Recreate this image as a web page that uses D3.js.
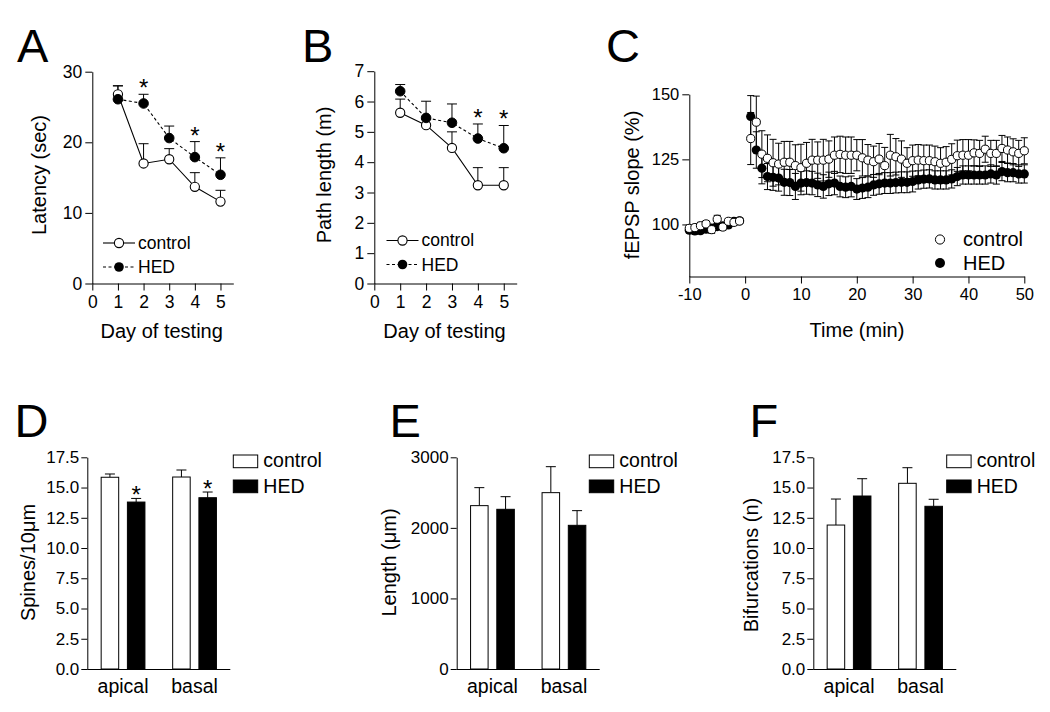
<!DOCTYPE html>
<html><head><meta charset="utf-8">
<script src="https://cdn.jsdelivr.net/npm/d3@7"></script>
<style>
body{margin:0;background:#fff;}
</style></head><body>
<svg id="fig" width="1050" height="712" style="display:block;background:#fff"></svg>
<script>
// ---------- DATA ----------
const days = [1, 2, 3, 4, 5];
const dayTicks = [0, 1, 2, 3, 4, 5];

const latencyTicks = [0, 10, 20, 30];
const latencyControl = [26.8, 17.0, 17.6, 13.7, 11.6];
const latencyControlErr = [1.2, 2.8, 1.5, 2.0, 1.6];
const latencyHED = [26.1, 25.5, 20.6, 17.9, 15.4];
const latencyHEDErr = [1.9, 1.3, 1.7, 2.2, 2.4];
const latencySig = [false, true, false, true, true];

const pathTicks = [0, 1, 2, 3, 4, 5, 6, 7];
const pathControl = [5.63, 5.22, 4.47, 3.24, 3.24];
const pathControlErr = [0.45, 0.2, 0.53, 0.58, 0.58];
const pathHED = [6.34, 5.46, 5.30, 4.78, 4.46];
const pathHEDErr = [0.22, 0.55, 0.62, 0.48, 0.75];
const pathSig = [false, false, false, true, true];

const cXTicks = [-10, 0, 10, 20, 30, 40, 50];
const cYTicks = [100, 125, 150];
const cTime = [-10,-9,-8,-7,-6,-5,-4,-3,-2,-1,
  1,2,3,4,5,6,7,8,9,10,
  11,12,13,14,15,16,17,18,19,20,
  21,22,23,24,25,26,27,28,29,30,
  31,32,33,34,35,36,37,38,39,40,
  41,42,43,44,45,46,47,48,49,50];
const cControl = [98.5,98.8,99.5,100.2,98.0,102.0,99.0,101.2,100.8,101.3,
  133.0,139.3,127.0,125.4,123.7,123.2,123.9,123.9,122.6,121.8,
  123.5,124.7,124.7,124.7,125.1,126.6,126.9,126.6,126.6,126.6,
  125.6,124.7,124.1,125.1,122.6,126.6,126.0,125.1,123.5,124.5,
  124.7,124.5,124.5,124.1,123.5,123.9,125.0,126.4,126.6,126.6,
  127.5,127.3,128.9,127.3,127.3,129.2,128.6,127.9,127.3,128.3];
const cControlErr = [1.2,1.0,1.3,1.1,1.4,1.5,1.2,1.0,1.1,0.9,
  10,10,9,9,9,8,8,8,8,9,
  8,8,7,8,7,7,7,7,7,6,
  7,6,6,6,7,8,7,7,6,6,
  6,6,6,6,6,6,6,6,6,6,
  5,5,5,5,5,5,5,5,5,5];
const cHED = [97.8,97.5,97.6,98.2,98.6,99.2,99.5,99.8,101.2,101.4,
  141.5,128.6,121.6,118.4,118.1,117.8,116.2,116.1,114.6,115.9,
  116.1,115.9,115.2,114.6,115.6,115.9,114.6,114.3,114.6,113.6,
  114.0,114.3,115.2,115.6,115.9,115.9,116.1,116.2,116.2,116.5,
  117.1,117.4,117.5,117.1,117.1,117.1,117.5,118.4,119.0,119.0,
  119.0,119.0,119.0,119.4,119.0,120.3,119.9,119.9,119.4,119.4];
const cHEDErr = [1.0,1.1,0.9,1.2,1.0,1.1,1.0,0.9,1.0,1.1,
  8,7,6,5,5,5,5,5,5,4.5,
  4.5,4.5,4.5,4.5,4.5,4.5,4,4,4,4,
  4,4,4,4,4,4,4,4,4,4,
  3.5,3.5,3.5,3.5,3.5,3.5,3.5,3.5,3.5,3.5,
  3.5,3.5,3.5,3.5,3.5,3.5,3.5,3.5,3.5,3.5];

const barGroups = ['apical', 'basal'];
const seriesNames = ['control', 'HED'];

const spinesTicks = [0, 2.5, 5, 7.5, 10, 12.5, 15, 17.5];
const spinesControl = [15.85, 15.87];
const spinesControlErr = [0.27, 0.58];
const spinesHED = [13.8, 14.16];
const spinesHEDErr = [0.3, 0.47];
const spinesSig = [true, true];

const lengthTicks = [0, 1000, 2000, 3000];
const lengthControl = [2315, 2499];
const lengthControlErr = [255, 368];
const lengthHED = [2263, 2036];
const lengthHEDErr = [179, 208];
const lengthSig = [false, false];

const bifTicks = [0, 2.5, 5, 7.5, 10, 12.5, 15, 17.5];
const bifControl = [11.9, 15.35];
const bifControlErr = [2.15, 1.29];
const bifHED = [14.3, 13.45];
const bifHEDErr = [1.43, 0.58];
const bifSig = [false, false];

// ---------- DRAWING ----------
const FONT = '"Liberation Sans", Arial, Helvetica, sans-serif';
const svg = d3.select('#fig');

function txt(parent, s, x, y, size, anchor) {
  return parent.append('text').text(s).attr('x', x).attr('y', y)
    .attr('font-family', FONT).attr('font-size', size)
    .attr('text-anchor', anchor || 'start').attr('fill', '#000');
}
function styleAxis(g, fs) {
  g.attr('font-size', null).attr('font-family', null);
  g.selectAll('path,line').attr('stroke', '#000').attr('stroke-width', 1);
  g.selectAll('text').attr('font-size', fs).attr('font-family', FONT).attr('fill', '#000');
}
function vTitle(s, cx, cy, size) {
  svg.append('text').text(s)
    .attr('transform', `translate(${cx},${cy}) rotate(-90)`)
    .attr('dy', '0.36em')
    .attr('font-family', FONT).attr('font-size', size)
    .attr('text-anchor', 'middle').attr('fill', '#000');
}
function panelLetter(s, x, y) { txt(svg, s, x, y, 47); }

function errBar(g, x, yv, ytop, ybot, cap) {
  g.append('line').attr('x1', x).attr('x2', x).attr('y1', ybot).attr('y2', ytop)
    .attr('stroke', '#000').attr('stroke-width', 1);
  g.append('line').attr('x1', x - cap).attr('x2', x + cap).attr('y1', ytop).attr('y2', ytop)
    .attr('stroke', '#000').attr('stroke-width', 1);
  if (ybot !== yv) {
    g.append('line').attr('x1', x - cap).attr('x2', x + cap).attr('y1', ybot).attr('y2', ybot)
      .attr('stroke', '#000').attr('stroke-width', 1);
  }
}

// ---- line panels A & B ----
function linePanel(o) {
  const x = d3.scaleLinear().domain([0, 5.5]).range([o.x0, o.x1]);
  const y = d3.scaleLinear().domain([0, o.ymax]).range([o.y0, o.y1]);
  const g = svg.append('g');
  const ya = g.append('g').attr('transform', `translate(${o.x0},0)`)
    .call(d3.axisLeft(y).tickValues(o.yTicks).tickFormat(d3.format('d')).tickSize(7).tickPadding(3).tickSizeOuter(0));
  styleAxis(ya, 17.5);
  const xa = g.append('g').attr('transform', `translate(0,${o.y0})`)
    .call(d3.axisBottom(x).tickValues(dayTicks).tickFormat(d3.format('d')).tickSize(7).tickPadding(5).tickSizeOuter(0));
  styleAxis(xa, 17.5);
  // error bars (upward)
  const eg = g.append('g');
  days.forEach((d, i) => {
    errBar(eg, x(d), y(o.ctrl[i]), y(o.ctrl[i] + o.ctrlErr[i]), y(o.ctrl[i]), 5);
    errBar(eg, x(d), y(o.hed[i]), y(o.hed[i] + o.hedErr[i]), y(o.hed[i]), 5);
  });
  const line = d3.line().x((d) => x(d[0])).y((d) => y(d[1]));
  g.append('path').attr('d', line(days.map((d, i) => [d, o.ctrl[i]])))
    .attr('fill', 'none').attr('stroke', '#000').attr('stroke-width', 1.1);
  g.append('path').attr('d', line(days.map((d, i) => [d, o.hed[i]])))
    .attr('fill', 'none').attr('stroke', '#000').attr('stroke-width', 1.1).attr('stroke-dasharray', '3,2.5');
  g.selectAll('.c').data(days).enter().append('circle')
    .attr('cx', (d) => x(d)).attr('cy', (d, i) => y(o.ctrl[i])).attr('r', 4.6)
    .attr('fill', '#fff').attr('stroke', '#000').attr('stroke-width', 1.1);
  g.selectAll('.h').data(days).enter().append('circle')
    .attr('cx', (d) => x(d)).attr('cy', (d, i) => y(o.hed[i])).attr('r', 4.8)
    .attr('fill', '#000').attr('stroke', '#000').attr('stroke-width', 1);
  days.forEach((d, i) => {
    if (o.sig[i]) txt(g, '*', x(d), y(o.hed[i] + o.hedErr[i]) + 2, 24, 'middle');
  });
  // legend
  const L = o.legend;
  g.append('line').attr('x1', L.x).attr('x2', L.x + 32).attr('y1', L.y1).attr('y2', L.y1)
    .attr('stroke', '#000').attr('stroke-width', 1.1);
  g.append('circle').attr('cx', L.x + 16).attr('cy', L.y1).attr('r', 4.6)
    .attr('fill', '#fff').attr('stroke', '#000').attr('stroke-width', 1.1);
  txt(g, seriesNames[0], L.x + 35, L.y1 + 5.5, 17.5);
  g.append('line').attr('x1', L.x).attr('x2', L.x + 32).attr('y1', L.y2).attr('y2', L.y2)
    .attr('stroke', '#000').attr('stroke-width', 1.1).attr('stroke-dasharray', '3,2.5');
  g.append('circle').attr('cx', L.x + 16).attr('cy', L.y2).attr('r', 4.8).attr('fill', '#000');
  txt(g, seriesNames[1], L.x + 35, L.y2 + 6, 17.5);
  // titles
  txt(svg, 'Day of testing', o.xTitleX, 337.5, 20, 'middle');
  vTitle(o.yTitle, o.yTitleX, o.yTitleY, 20);
}

panelLetter('A', 17, 62);
linePanel({x0: 92.3, x1: 233.3, y0: 283.5, y1: 71.7, ymax: 30, yTicks: latencyTicks,
  ctrl: latencyControl, ctrlErr: latencyControlErr, hed: latencyHED, hedErr: latencyHEDErr, sig: latencySig,
  legend: {x: 103, y1: 243, y2: 267}, xTitleX: 161.7, yTitle: 'Latency (sec)', yTitleX: 39, yTitleY: 175});

panelLetter('B', 302, 62);
linePanel({x0: 374.3, x1: 516.7, y0: 283.5, y1: 71.2, ymax: 7, yTicks: pathTicks,
  ctrl: pathControl, ctrlErr: pathControlErr, hed: pathHED, hedErr: pathHEDErr, sig: pathSig,
  legend: {x: 386.5, y1: 240.5, y2: 264.5}, xTitleX: 444.5, yTitle: 'Path length (m)', yTitleX: 324, yTitleY: 175});

// ---- panel C ----
(function () {
  panelLetter('C', 606, 62);
  const x = d3.scaleLinear().domain([-10, 50]).range([689.3, 1024.3]);
  const y = d3.scaleLinear().domain([80, 150]).range([276.5, 94.3]);
  const g = svg.append('g');
  const ya = g.append('g').attr('transform', `translate(689.3,0)`)
    .call(d3.axisLeft(y).tickValues(cYTicks).tickFormat(d3.format('d')).tickSize(7).tickPadding(3).tickSizeOuter(0));
  styleAxis(ya, 16.5);
  const xa = g.append('g').attr('transform', `translate(0,276.5)`)
    .call(d3.axisBottom(x).tickValues(cXTicks).tickFormat((d) => String(d)).tickSize(7).tickPadding(5).tickSizeOuter(0));
  styleAxis(xa, 16.5);
  const eg = g.append('g');
  cTime.forEach((t, i) => {
    errBar(eg, x(t), y(cHED[i]), y(cHED[i] + cHEDErr[i]), y(cHED[i] - cHEDErr[i]), 3.5);
  });
  cTime.forEach((t, i) => {
    errBar(eg, x(t), y(cControl[i]), y(cControl[i] + cControlErr[i]), y(cControl[i] - cControlErr[i]), 3.5);
  });
  g.selectAll('.h').data(cTime).enter().append('circle')
    .attr('cx', (t) => x(t)).attr('cy', (t, i) => y(cHED[i])).attr('r', 4.6).attr('fill', '#000');
  g.selectAll('.c').data(cTime).enter().append('circle')
    .attr('cx', (t) => x(t)).attr('cy', (t, i) => y(cControl[i])).attr('r', 4.1)
    .attr('fill', '#fff').attr('stroke', '#000').attr('stroke-width', 1);
  // legend
  g.append('circle').attr('cx', 940).attr('cy', 239.5).attr('r', 4.6).attr('fill', '#fff').attr('stroke', '#000');
  txt(g, seriesNames[0], 963, 246, 20);
  g.append('circle').attr('cx', 940).attr('cy', 263).attr('r', 5).attr('fill', '#000');
  txt(g, seriesNames[1], 963, 269.5, 20);
  txt(svg, 'Time (min)', 857, 337, 20, 'middle');
  vTitle('fEPSP slope (%)', 632, 185, 20);
})();

// ---- bar panels D, E, F ----
function barPanel(o) {
  const y = d3.scaleLinear().domain([0, o.ymax]).range([669, 457.3]);
  const xg = d3.scaleBand().domain(barGroups).range([o.x0, o.x0 + 143]).paddingInner(0.2).paddingOuter(0.1);
  const xs = d3.scaleBand().domain(seriesNames).range([0, xg.bandwidth()]).paddingInner(0.332).paddingOuter(0.256);
  const g = svg.append('g');
  const ya = g.append('g').attr('transform', `translate(${o.x0},0)`)
    .call(d3.axisLeft(y).tickValues(o.yTicks).tickFormat(d3.format(o.fmt)).tickSize(6).tickPadding(2).tickSizeOuter(0));
  styleAxis(ya, 17);
  g.append('line').attr('x1', o.x0).attr('x2', o.x0 + 143).attr('y1', 669.5).attr('y2', 669.5)
    .attr('stroke', '#000').attr('stroke-width', 1);
  const series = [
    {name: 'control', v: o.ctrl, e: o.ctrlErr, fill: '#fff'},
    {name: 'HED', v: o.hed, e: o.hedErr, fill: '#000'}
  ];
  series.forEach((s) => {
    barGroups.forEach((grp, i) => {
      const bx = xg(grp) + xs(s.name);
      const bw = xs.bandwidth();
      const cx = bx + bw / 2;
      errBar(g, cx, y(s.v[i]), y(s.v[i] + s.e[i]), y(s.v[i]), 5);
      g.append('rect').attr('x', bx).attr('y', y(s.v[i])).attr('width', bw).attr('height', y(0) - y(s.v[i]))
        .attr('fill', s.fill).attr('stroke', '#000').attr('stroke-width', 1);
      if (s.name === 'HED' && o.sig[i]) txt(g, '*', cx, y(s.v[i] + s.e[i]) + 4.5, 24, 'middle');
    });
  });
  barGroups.forEach((grp) => {
    txt(g, grp, xg(grp) + xg.bandwidth() / 2, 693.3, 19.5, 'middle');
  });
  // legend
  g.append('rect').attr('x', o.lx).attr('y', 455).attr('width', 24.4).attr('height', 12.7)
    .attr('fill', '#fff').attr('stroke', '#000').attr('stroke-width', 1);
  txt(g, seriesNames[0], o.lx + 30, 467.3, 19.5);
  g.append('rect').attr('x', o.lx).attr('y', 480).attr('width', 24.4).attr('height', 12.7)
    .attr('fill', '#000').attr('stroke', '#000').attr('stroke-width', 1);
  txt(g, seriesNames[1], o.lx + 30, 492.7, 19.5);
  vTitle(o.yTitle, o.yTitleX, o.yTitleY, 20);
}

panelLetter('D', 14.5, 437);
barPanel({x0: 87.3, ymax: 17.5, yTicks: spinesTicks, fmt: '.1f', ctrl: spinesControl, ctrlErr: spinesControlErr,
  hed: spinesHED, hedErr: spinesHEDErr, sig: spinesSig, lx: 233.3, yTitle: 'Spines/10\u03bcm', yTitleX: 27.5, yTitleY: 562.5});
panelLetter('E', 389.5, 437);
barPanel({x0: 456.7, ymax: 3000, yTicks: lengthTicks, fmt: 'd', ctrl: lengthControl, ctrlErr: lengthControlErr,
  hed: lengthHED, hedErr: lengthHEDErr, sig: lengthSig, lx: 589.3, yTitle: 'Length (\u03bcm)', yTitleX: 389.2, yTitleY: 562.5});
panelLetter('F', 749.5, 437);
barPanel({x0: 813.3, ymax: 17.5, yTicks: bifTicks, fmt: '.1f', ctrl: bifControl, ctrlErr: bifControlErr,
  hed: bifHED, hedErr: bifHEDErr, sig: bifSig, lx: 946.7, yTitle: 'Bifurcations (n)', yTitleX: 750.8, yTitleY: 565});
</script>
</body></html>
